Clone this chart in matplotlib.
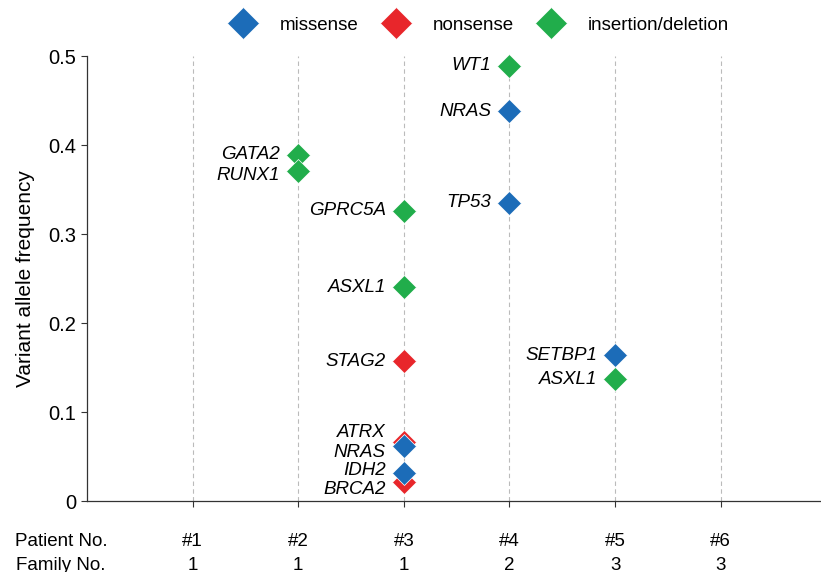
import matplotlib.pyplot as plt
from matplotlib.lines import Line2D
from matplotlib.transforms import blended_transform_factory

plt.rcParams['font.family'] = ['Liberation Sans', 'DejaVu Sans']

# variant data
genes = ['WT1', 'NRAS', 'TP53', 'GATA2', 'RUNX1', 'GPRC5A', 'ASXL1', 'STAG2',
         'SETBP1', 'ASXL1', 'ATRX', 'NRAS', 'BRCA2', 'IDH2']
patient = [4, 4, 4, 2, 2, 3, 3, 3, 5, 5, 3, 3, 3, 3]
vaf = [0.489, 0.438, 0.335, 0.389, 0.371, 0.326, 0.240, 0.157,
       0.164, 0.137, 0.066, 0.062, 0.021, 0.031]
vtype = ['indel', 'missense', 'missense', 'indel', 'indel', 'indel', 'indel', 'nonsense',
         'missense', 'indel', 'nonsense', 'missense', 'nonsense', 'missense']
# small vertical nudges (points) so stacked labels don't overlap
label_dy = [0, 0, 0, 0, -3, 0, 0, 0, 0, 0, 7, -5, -5, 2]

patients = ['#1', '#2', '#3', '#4', '#5', '#6']
families = ['1', '1', '1', '2', '3', '3']

colors = {'missense': '#1c6cb8', 'nonsense': '#e8262b', 'indel': '#21ad4b'}
legend_names = {'missense': 'missense', 'nonsense': 'nonsense', 'indel': 'insertion/deletion'}

fig = plt.figure(figsize=(8.21, 5.72), dpi=100)
ax = fig.add_axes([0.106, 0.124, 0.894, 0.778])

for x in range(1, len(patients) + 1):
    ax.axvline(x, color='#bbbbbb', lw=0.8, ls=(0, (4, 3)), zorder=0)

for g, p, v, t, dy in zip(genes, patient, vaf, vtype, label_dy):
    ax.plot(p, v, marker='D', ms=12, color=colors[t], mec='white', mew=0.5,
            ls='none', clip_on=False, zorder=3)
    ax.annotate(g, (p, v), xytext=(-13, dy), textcoords='offset points',
                ha='right', va='center', style='italic', fontsize=13.5)

ax.set_xlim(0, 6.95)
ax.set_ylim(0, 0.5)
ax.set_yticks([0, 0.1, 0.2, 0.3, 0.4, 0.5])
ax.set_yticklabels(['0', '0.1', '0.2', '0.3', '0.4', '0.5'], fontsize=14.5)
ax.set_xticks(range(1, len(patients) + 1))
ax.set_xticklabels([])
ax.tick_params(axis='both', length=4, width=0.8, color='#333333')
ax.set_ylabel('Variant allele frequency', fontsize=15, labelpad=10)
ax.spines['top'].set_visible(False)
ax.spines['right'].set_visible(False)
for s in ['left', 'bottom']:
    ax.spines[s].set_color('#333333')
    ax.spines[s].set_linewidth(0.9)

# patient / family rows under the axis
trans = blended_transform_factory(ax.transData, fig.transFigure)
for i, (p, f) in enumerate(zip(patients, families)):
    ax.text(i + 1, 1 - 541 / 572, p, transform=trans, ha='center', va='center', fontsize=13.5)
    ax.text(i + 1, 1 - 565 / 572, f, transform=trans, ha='center', va='center', fontsize=13.5)
fig.text(61 / 821, 1 - 541 / 572, 'Patient No.', ha='center', va='center', fontsize=13.5)
fig.text(61 / 821, 1 - 565 / 572, 'Family No.', ha='center', va='center', fontsize=13.5)

handles = [Line2D([], [], marker='D', ms=16, ls='none', color=colors[k], mec='white', mew=0.5)
           for k in ['missense', 'nonsense', 'indel']]
fig.legend(handles, [legend_names[k] for k in ['missense', 'nonsense', 'indel']],
           loc='center', bbox_to_anchor=(0.585, 1 - 25 / 572), ncol=3, frameon=False,
           fontsize=13.5, handlelength=1.2, handletextpad=1.35, columnspacing=1.4)

fig.savefig('out.png', dpi=100)
